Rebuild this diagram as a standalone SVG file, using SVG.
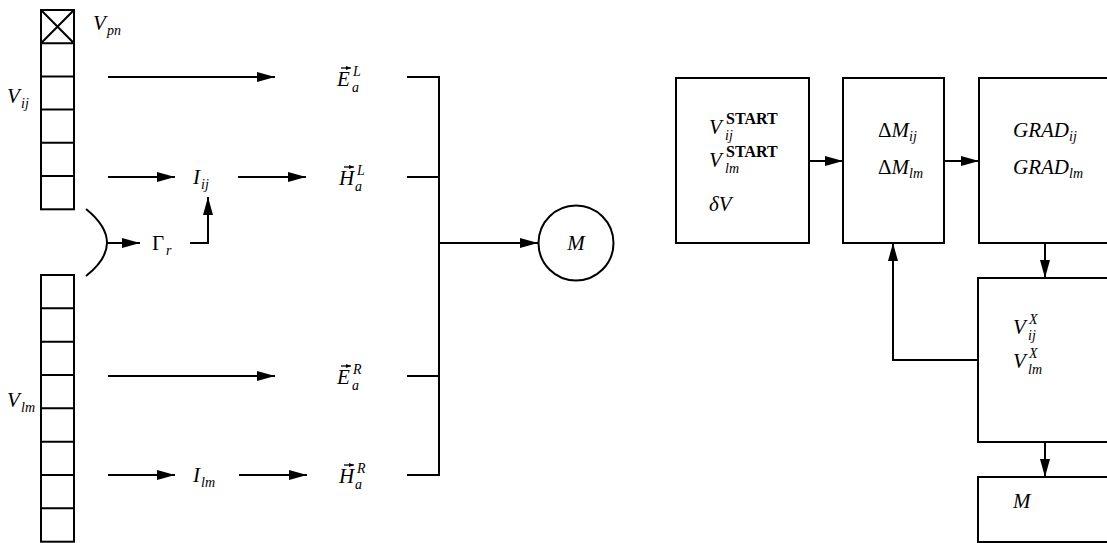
<svg xmlns="http://www.w3.org/2000/svg" width="1107" height="543" viewBox="0 0 1107 543">
<style>
.ln{stroke:#000;stroke-width:2;fill:none}
.bx{stroke:#000;stroke-width:2;fill:#fff}
.vec{stroke:#000;stroke-width:1.3;fill:none}
.t{font-family:"Liberation Serif","DejaVu Serif",serif;font-style:italic;font-size:21px;fill:#000}
.s{font-size:14px}
.up{font-style:normal}
.st{font-style:normal;font-weight:bold;font-size:16px}
</style>
<defs>
<marker id="ah" markerWidth="18" markerHeight="10" refX="18" refY="5" orient="auto" markerUnits="userSpaceOnUse"><path d="M0,0 L18,5 L0,10 z" fill="#000"/></marker>
<marker id="va" markerWidth="5" markerHeight="4" refX="5" refY="2" orient="auto" markerUnits="userSpaceOnUse"><path d="M0,0 L5,2 L0,4 z" fill="#000"/></marker>
</defs>
<rect width="1107" height="543" fill="#fff"/>

<g id="col-top">
<rect class="ln" x="41" y="10" width="33" height="199.3"/>
<path class="ln" d="M41,43.2H74M41,76.4H74M41,109.6H74M41,142.8H74M41,176H74M41,10L74,43.2M74,10L41,43.2"/>
<text class="t" x="93" y="30">V<tspan class="s" x="107" y="35">pn</tspan></text>
<text class="t" x="7" y="103">V<tspan class="s" x="21" y="108">ij</tspan></text>
</g>
<g id="col-bottom">
<rect class="ln" x="41" y="275" width="33" height="266.7"/>
<path class="ln" d="M41,308.3H74M41,341.7H74M41,375H74M41,408.3H74M41,441.7H74M41,475H74M41,508.3H74"/>
<text class="t" x="7" y="407">V<tspan class="s" x="21" y="412">lm</tspan></text>
</g>
<g id="n-gamma"><text class="t" x="152" y="250"><tspan class="up">Γ</tspan><tspan class="s" x="166" y="255">r</tspan></text></g>
<g id="n-Iij"><text class="t" x="193" y="184">I<tspan class="s" x="201" y="189">ij</tspan></text></g>
<g id="n-Ilm"><text class="t" x="193" y="482">I<tspan class="s" x="201" y="487">lm</tspan></text></g>
<g id="n-EL"><text class="t" x="337" y="86">E</text><text class="t s" x="353" y="76">L</text><text class="t s" x="352" y="92">a</text><path class="vec" d="M341,68H351" marker-end="url(#va)"/></g>
<g id="n-HL"><text class="t" x="339" y="185">H</text><text class="t s" x="357" y="175">L</text><text class="t s" x="355" y="191">a</text><path class="vec" d="M344,167H354" marker-end="url(#va)"/></g>
<g id="n-ER"><text class="t" x="337" y="384">E</text><text class="t s" x="353" y="374">R</text><text class="t s" x="352" y="390">a</text><path class="vec" d="M341,366H351" marker-end="url(#va)"/></g>
<g id="n-HR"><text class="t" x="339" y="483">H</text><text class="t s" x="357" y="473">R</text><text class="t s" x="355" y="489">a</text><path class="vec" d="M344,465H354" marker-end="url(#va)"/></g>
<g id="n-M"><circle class="ln" cx="576" cy="243" r="37.5"/><text class="t" x="576" y="250" text-anchor="middle">M</text></g>

<g id="b-start"><rect class="bx" x="676" y="78" width="133" height="165"/>
<text class="t" x="709" y="134">V</text><text class="t s" x="725" y="140">ij</text><text class="t st" x="726" y="124">START</text>
<text class="t" x="709" y="167">V</text><text class="t s" x="725" y="173">lm</text><text class="t st" x="726" y="157">START</text>
<text class="t" x="709" y="211">δV</text></g>
<g id="b-dm"><rect class="bx" x="843" y="78" width="101" height="165"/>
<text class="t" x="878" y="137"><tspan class="up">Δ</tspan>M<tspan class="s" dy="4">ij</tspan></text>
<text class="t" x="878" y="174"><tspan class="up">Δ</tspan>M<tspan class="s" dy="4">lm</tspan></text></g>
<g id="b-grad"><rect class="bx" x="979" y="78" width="140" height="165"/>
<text class="t" x="1013" y="137">GRAD<tspan class="s" dy="4">ij</tspan></text>
<text class="t" x="1013" y="174">GRAD<tspan class="s" dy="4">lm</tspan></text></g>
<g id="b-vx"><rect class="bx" x="978" y="278" width="140" height="164"/>
<text class="t" x="1013" y="334">V</text><text class="t s" x="1028" y="340">ij</text><text class="t s" x="1029" y="324">X</text>
<text class="t" x="1013" y="368">V</text><text class="t s" x="1028" y="374">lm</text><text class="t s" x="1029" y="358">X</text></g>
<g id="b-m"><rect class="bx" x="978" y="477" width="140" height="65"/>
<text class="t" x="1013" y="508">M</text></g>

<g id="connectors">
<path class="ln" d="M108,77H275" marker-end="url(#ah)"/>
<path class="ln" d="M108,177H175" marker-end="url(#ah)"/>
<path class="ln" d="M238,177H306" marker-end="url(#ah)"/>
<path class="ln" d="M108,376H275" marker-end="url(#ah)"/>
<path class="ln" d="M108,475H175" marker-end="url(#ah)"/>
<path class="ln" d="M239,475H307" marker-end="url(#ah)"/>
<path class="ln" d="M86,209Q128,243 86,276"/>
<path class="ln" d="M107,243H140" marker-end="url(#ah)"/>
<path class="ln" d="M190,243H208V197" marker-end="url(#ah)"/>
<path class="ln" d="M407,77H439V475H407M407,177H439M407,376H439"/>
<path class="ln" d="M439,243H538" marker-end="url(#ah)"/>
<path class="ln" d="M809,161H843" marker-end="url(#ah)"/>
<path class="ln" d="M944,161H979" marker-end="url(#ah)"/>
<path class="ln" d="M1045,243V278" marker-end="url(#ah)"/>
<path class="ln" d="M1045,442V477" marker-end="url(#ah)"/>
<path class="ln" d="M978,360H893V243" marker-end="url(#ah)"/>
</g>
</svg>
